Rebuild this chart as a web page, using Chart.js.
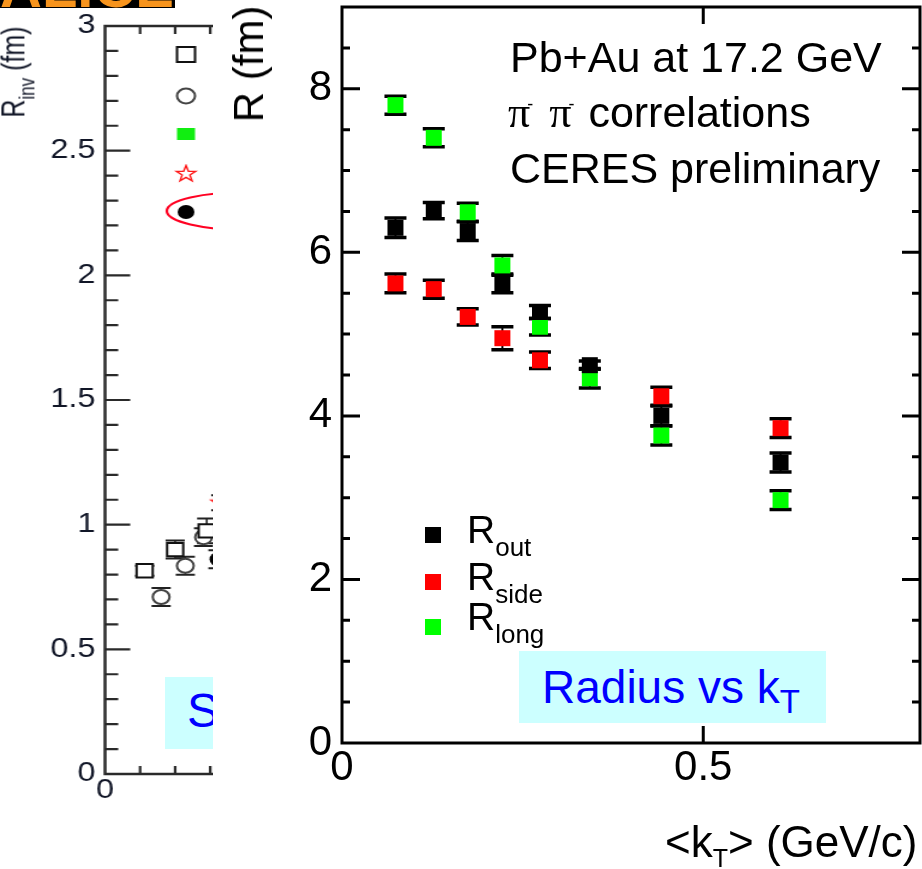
<!DOCTYPE html>
<html lang="en">
<head>
<meta charset="utf-8">
<title>HBT radii vs kT</title>
<script src="https://cdn.jsdelivr.net/npm/chart.js@4/dist/chart.umd.min.js"></script>
<style>
  html, body { margin:0; padding:0; background:#fff; }
  body { position:relative; width:922px; height:869px; overflow:hidden;
         font-family:"Liberation Sans", Arial, Helvetica, sans-serif; color:#000; }
  .t { position:absolute; white-space:nowrap; line-height:1; }
  .sub { position:relative; }
  #leftClip { position:absolute; left:0; top:0; width:213px; height:869px; overflow:hidden; background:#fff; }
  #leftCanvas { position:absolute; left:0; top:0; transform:scaleX(1.2); transform-origin:0 0; }
  #rightCanvas { position:absolute; left:213px; top:0; }
  #banner { position:absolute; left:0; top:0; width:175px; height:8px; background:#000; overflow:hidden; }
  #banner span { position:absolute; left:0; top:-42px; font-size:58px; font-weight:bold; color:#f7941d; line-height:1; }
  .pi { font-family:"Liberation Serif", "DejaVu Serif", serif; font-size:44px; }
  .sup { font-family:"Liberation Sans", Arial, sans-serif; font-size:18px; position:relative; top:-17px; margin-left:-3px; }
  .leg { font-size:39px; }
  .leg .sub { font-size:26px; top:13px; }
  .box { position:absolute; background:#ccffff; }
  .blue { color:#0000ff; }
</style>
</head>
<body>

<div id="leftClip">
  <canvas id="leftCanvas" width="225" height="869"></canvas>
  <div id="banner"><span>ALICE</span></div>
  <div class="t" style="left:13px;top:72px;font-size:25px;color:#111627;transform:translate(-50%,-50%) scaleX(1.35) rotate(-90deg)">R<span class="sub" style="font-size:17px;top:7px">inv</span> (fm)</div>
  <div class="box" style="left:165px;top:677px;width:120px;height:72px"></div>
  <div class="t blue" style="left:187px;top:687px;font-size:48px">S</div>
</div>

<canvas id="rightCanvas" width="709" height="869"></canvas>

<div class="t" style="left:249px;top:64px;font-size:42px;transform:translate(-50%,-50%) rotate(-90deg)">R (fm)</div>

<div class="t" style="left:510px;top:36px;font-size:43px">Pb+Au at 17.2 GeV</div>
<div class="t" style="left:508px;top:91px;font-size:43px"><span class="pi">π<span class="sup" style="margin-right:16px">-</span>π<span class="sup" style="margin-right:2px">-</span></span> correlations</div>
<div class="t" style="left:510px;top:147px;font-size:43px">CERES preliminary</div>

<div class="t leg" style="left:467px;top:510px">R<span class="sub">out</span></div>
<div class="t leg" style="left:467px;top:557px">R<span class="sub">side</span></div>
<div class="t leg" style="left:467px;top:597px">R<span class="sub">long</span></div>

<div class="box" style="left:519px;top:651px;width:307px;height:72px"></div>
<div class="t blue" style="left:542px;top:664px;font-size:46px">Radius vs k<span class="sub" style="font-size:33px;top:10px">T</span></div>

<div class="t" style="left:665px;top:820px;font-size:44px">&lt;k<span class="sub" style="font-size:25px;top:10px">T</span>&gt; (GeV/c)</div>

<script>
// ---------- CERES Pb+Au 17.2 GeV, pi- pi- HBT radii vs <kT> ----------
const kT       = [0.074, 0.127, 0.174, 0.222, 0.274, 0.343, 0.442, 0.607];
const Rout     = [6.30, 6.51, 6.26, 5.62, 5.27, 4.62, 4.00, 3.43];
const RoutErr  = [0.12, 0.10, 0.115, 0.115, 0.08, 0.05, 0.12, 0.115];
const Rside    = [5.62, 5.55, 5.21, 4.95, 4.68, null, 4.24, 3.85];
const RsideErr = [0.115, 0.11, 0.10, 0.14, 0.10, null, 0.11, 0.115];
const Rlong    = [7.80, 7.40, 6.49, 5.84, 5.09, 4.46, 3.76, 2.97];
const RlongErr = [0.11, 0.11, 0.11, 0.12, 0.10, 0.12, 0.115, 0.115];
const radiusYTicks = [0, 2, 4, 6, 8];
const radiusXTicks = [0, 0.5];

// ---------- R_inv panel ----------
const sqX   = [0.113, 0.200, 0.290];
const sqY   = [0.815, 0.900, 0.975];
const sqErr = [0.02, 0.036, 0.05];
const ocX   = [0.160, 0.229, 0.281];
const ocY   = [0.710, 0.835, 0.950];
const ocErr = [0.036, 0.036, 0.036];
const dotX  = [0.322];
const dotY  = [0.861];
const dotErr = [0.036];
const starX = [0.330];
const starY = [1.088];
const starErr = [0.03];
const rinvYTicks = [0, 0.5, 1, 1.5, 2, 2.5, 3];
const rinvXTicks = [0];

Chart.defaults.font.family = '"Liberation Sans", Arial, sans-serif';

const pts = (xs, ys) => xs.map((x, i) => ({ x, y: ys[i] }));

function makeStar(size, rOut, rIn, stroke, lw) {
  const c = document.createElement('canvas');
  c.width = c.height = size;
  const g = c.getContext('2d');
  const cx = size / 2, cy = size / 2;
  g.beginPath();
  for (let k = 0; k < 10; k++) {
    const r = k % 2 ? rIn : rOut;
    const a = -Math.PI / 2 + k * Math.PI / 5;
    const px = cx + r * Math.cos(a), py = cy + r * Math.sin(a);
    if (k) g.lineTo(px, py); else g.moveTo(px, py);
  }
  g.closePath();
  g.fillStyle = '#fff'; g.fill();
  g.strokeStyle = stroke; g.lineWidth = lw; g.stroke();
  return c;
}
const redStar = makeStar(20, 8.5, 3.4, '#ff1a1a', 1.4);

// keep the plot area exactly where the axis sizes put it
const fixSize = (prop, size) => s => {
  s[prop] = size;
  s.paddingTop = s.paddingBottom = s.paddingLeft = s.paddingRight = 0;
};

// vertical error bars with caps, drawn under the markers
const errorBarPlugin = {
  id: 'errorBars',
  beforeDatasetsDraw(chart, args, o) {
    const { ctx } = chart;
    const ys = chart.scales.y;
    chart.data.datasets.forEach((ds, i) => {
      if (!ds.errorBars) return;
      const meta = chart.getDatasetMeta(i);
      ctx.save();
      ctx.strokeStyle = o.color;
      meta.data.forEach((pt, j) => {
        const v = ds.data[j].y, e = ds.errorBars[j];
        if (v == null || e == null || !isFinite(pt.x)) return;
        const x = pt.x;
        const yt = ys.getPixelForValue(v + e), yb = ys.getPixelForValue(v - e);
        ctx.lineWidth = o.stem;
        ctx.beginPath(); ctx.moveTo(x, yt); ctx.lineTo(x, yb); ctx.stroke();
        ctx.lineWidth = o.cap;
        ctx.beginPath();
        ctx.moveTo(x - o.half, yt); ctx.lineTo(x + o.half, yt);
        ctx.moveTo(x - o.half, yb); ctx.lineTo(x + o.half, yb);
        ctx.stroke();
      });
      ctx.restore();
    });
  }
};

// plot frame with inward major/minor tick marks
const frameTicksPlugin = {
  id: 'frameTicks',
  afterDatasetsDraw(chart, args, o) {
    const { ctx, chartArea: a } = chart;
    const x = chart.scales.x, y = chart.scales.y;
    ctx.save();
    ctx.strokeStyle = o.color;
    ctx.lineCap = 'butt';
    ctx.lineWidth = o.tickWidth;
    ctx.beginPath();
    const ny = Math.round((y.max - y.min) / o.yStep);
    for (let i = 1; i < ny; i++) {
      const p = y.getPixelForValue(y.min + i * o.yStep);
      const len = i % o.yMajorEvery === 0 ? o.yMajorLen : o.yMinorLen;
      if (o.yLeft) { ctx.moveTo(a.left, p); ctx.lineTo(a.left + len, p); }
      if (o.yRight) { ctx.moveTo(a.right, p); ctx.lineTo(a.right - len, p); }
    }
    const nx = Math.round((x.max - x.min) / o.xStep);
    for (let i = 1; i < nx; i++) {
      const p = x.getPixelForValue(x.min + i * o.xStep);
      if (Math.abs(p - a.right) < 2) continue;
      const len = o.xLen;
      ctx.moveTo(p, a.bottom); ctx.lineTo(p, a.bottom - len);
      ctx.moveTo(p, a.top); ctx.lineTo(p, a.top + len);
    }
    ctx.stroke();
    ctx.lineWidth = o.frameWidth;
    ctx.strokeRect(a.left, a.top, a.right - a.left, a.bottom - a.top);
    ctx.restore();
  }
};

// legend symbols for the radius panel
const radiusLegendPlugin = {
  id: 'radiusLegend',
  afterDatasetsDraw(chart, args, o) {
    const { ctx } = chart;
    ctx.save();
    chart.data.datasets.forEach((ds, i) => {
      ctx.fillStyle = ds.backgroundColor;
      ctx.fillRect(o.x - o.size / 2, o.ys[i] - o.size / 2, o.size, o.size);
    });
    ctx.restore();
  }
};

// legend symbols for the R_inv panel, with the highlight ellipse
const rinvLegendPlugin = {
  id: 'rinvLegend',
  afterDatasetsDraw(chart, args, o) {
    const { ctx } = chart;
    const x = o.x;
    ctx.save();
    ctx.lineWidth = 2;
    ctx.strokeStyle = '#111'; ctx.fillStyle = '#fff';
    ctx.fillRect(x - 7.5, 47, 15, 15); ctx.strokeRect(x - 7.5, 47, 15, 15);
    ctx.strokeStyle = '#444';
    ctx.beginPath(); ctx.arc(x, 96, 7.5, 0, 2 * Math.PI); ctx.fill(); ctx.stroke();
    ctx.fillStyle = '#11ee11';
    ctx.fillRect(x - 7.5, 128, 15, 12);
    ctx.drawImage(redStar, x - 10, 174 - 10);
    ctx.fillStyle = '#000';
    ctx.beginPath(); ctx.arc(x, 212, 7, 0, 2 * Math.PI); ctx.fill();
    ctx.strokeStyle = '#ff0022'; ctx.lineWidth = 2.2;
    ctx.beginPath(); ctx.ellipse(206, 211, 67, 19, 0, 0, 2 * Math.PI); ctx.stroke();
    ctx.restore();
  }
};

const tickFmt = v => String(v);

// ---------- R_inv panel chart ----------
const navy = '#111627';
new Chart(document.getElementById('leftCanvas'), {
  type: 'scatter',
  data: {
    datasets: [
      { data: pts(dotX, dotY), errorBars: dotErr, pointStyle: 'circle', pointRadius: 7,
        backgroundColor: '#000', borderColor: '#000', borderWidth: 0 },
      { data: pts(starX, starY), errorBars: starErr, pointStyle: redStar, pointRadius: 9,
        backgroundColor: '#fff', borderColor: '#f00' },
      { data: pts(sqX, sqY), errorBars: sqErr, pointStyle: 'rect', pointRadius: 9.5,
        backgroundColor: '#fff', borderColor: '#111', borderWidth: 2 },
      { data: pts(ocX, ocY), errorBars: ocErr, pointStyle: 'circle', pointRadius: 7,
        backgroundColor: '#fff', borderColor: '#444', borderWidth: 2 }
    ]
  },
  options: {
    responsive: false, animation: false, devicePixelRatio: 1,
    layout: { autoPadding: false, padding: { top: 26, right: 6, left: 0, bottom: 0 } },
    plugins: {
      legend: { display: false }, tooltip: { enabled: false },
      errorBars: { color: '#222', stem: 1.6, cap: 2, half: 8 },
      frameTicks: { color: '#2a2a2a', tickWidth: 2.2, frameWidth: 2.5,
        yStep: 0.1, yMajorEvery: 5, yMajorLen: 21, yMinorLen: 11, yLeft: true, yRight: false,
        xStep: 0.1, xLen: 8 },
      rinvLegend: { x: 155 }
    },
    scales: {
      x: { type: 'linear', min: 0, max: 0.45,
        grid: { display: false, drawTicks: false }, border: { display: false },
        afterBuildTicks: s => { s.ticks = rinvXTicks.map(v => ({ value: v })); },
        afterFit: fixSize('height', 95),
        ticks: { callback: tickFmt, font: { size: 27 }, color: navy, padding: 0, maxRotation: 0, autoSkip: false } },
      y: { type: 'linear', min: 0, max: 3,
        grid: { display: false, drawTicks: false }, border: { display: false },
        afterBuildTicks: s => { s.ticks = rinvYTicks.map(v => ({ value: v })); },
        afterFit: fixSize('width', 87.5),
        ticks: { callback: tickFmt, font: { size: 27 }, color: navy, padding: 8, autoSkip: false } }
    }
  },
  plugins: [errorBarPlugin, frameTicksPlugin, rinvLegendPlugin]
});

// ---------- radius vs kT chart ----------
new Chart(document.getElementById('rightCanvas'), {
  type: 'scatter',
  data: {
    datasets: [
      { label: 'R_out', data: pts(kT, Rout), errorBars: RoutErr,
        backgroundColor: '#000000', borderColor: '#000000' },
      { label: 'R_side', data: pts(kT, Rside), errorBars: RsideErr,
        backgroundColor: '#ff0000', borderColor: '#ff0000' },
      { label: 'R_long', data: pts(kT, Rlong), errorBars: RlongErr,
        backgroundColor: '#00ff00', borderColor: '#00ff00' }
    ]
  },
  options: {
    responsive: false, animation: false, devicePixelRatio: 1,
    layout: { autoPadding: false, padding: { top: 7, right: 2, left: 0, bottom: 0 } },
    elements: { point: { pointStyle: 'rect', radius: 11.3, hoverRadius: 11.3, borderWidth: 0 } },
    plugins: {
      legend: { display: false }, tooltip: { enabled: false },
      errorBars: { color: '#000', stem: 2, cap: 3.5, half: 11 },
      frameTicks: { color: '#000', tickWidth: 3, frameWidth: 3,
        yStep: 0.5, yMajorEvery: 4, yMajorLen: 18, yMinorLen: 8, yLeft: true, yRight: true,
        xStep: 0.5, xLen: 17 },
      radiusLegend: { x: 220, ys: [535, 582, 627], size: 16 }
    },
    scales: {
      x: { type: 'linear', min: 0, max: 0.8,
        grid: { display: false, drawTicks: false }, border: { display: false },
        afterBuildTicks: s => { s.ticks = radiusXTicks.map(v => ({ value: v })); },
        afterFit: fixSize('height', 126),
        ticks: { callback: tickFmt, font: { size: 42 }, color: '#000', padding: 0, maxRotation: 0, autoSkip: false } },
      y: { type: 'linear', min: 0, max: 9,
        grid: { display: false, drawTicks: false }, border: { display: false },
        afterBuildTicks: s => { s.ticks = radiusYTicks.map(v => ({ value: v })); },
        afterFit: fixSize('width', 129),
        ticks: { callback: tickFmt, font: { size: 42 }, color: '#000', padding: 10, autoSkip: false } }
    }
  },
  plugins: [errorBarPlugin, frameTicksPlugin, radiusLegendPlugin]
});
</script>
</body>
</html>
